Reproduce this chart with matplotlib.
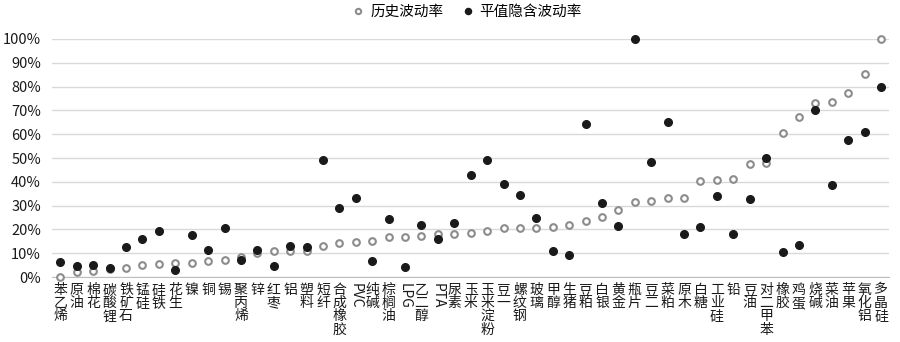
import matplotlib
matplotlib.use("Agg")
import matplotlib.pyplot as plt
from matplotlib.ticker import PercentFormatter

plt.rcParams['font.family'] = ['Noto Sans CJK SC', 'DejaVu Sans']

# 品种
names = ['苯乙烯', '原油', '棉花', '碳酸锂', '铁矿石', '锰硅', '硅铁', '花生', '镍', '铜',
         '锡', '聚丙烯', '锌', '红枣', '铝', '塑料', '短纤', '合成橡胶', 'PVC', '纯碱',
         '棕榈油', 'LPG', '乙二醇', 'PTA', '尿素', '玉米', '玉米淀粉', '豆一', '螺纹钢', '玻璃',
         '甲醇', '生猪', '豆粕', '白银', '黄金', '瓶片', '豆二', '菜粕', '原木', '白糖',
         '工业硅', '铅', '豆油', '对二甲苯', '橡胶', '鸡蛋', '烧碱', '菜油', '苹果', '氧化铝',
         '多晶硅']

# 历史波动率 (%)
hist_vol = [0.0, 2.1, 2.4, 3.3, 3.6, 5.2, 5.3, 5.9, 5.9, 6.9,
            7.0, 8.5, 10.1, 10.8, 10.8, 10.8, 13.1, 14.5, 14.8, 15.2,
            16.9, 16.9, 17.1, 18.0, 18.2, 18.6, 19.3, 20.6, 20.6, 20.7,
            21.0, 21.7, 23.5, 25.3, 28.0, 31.5, 32.0, 33.0, 33.0, 40.4,
            40.8, 41.0, 47.6, 48.0, 60.7, 67.3, 73.0, 73.4, 77.2, 85.2,
            100.0]

# 平值隐含波动率 (%)
iv_atm = [6.3, 4.5, 5.2, 3.8, 12.6, 15.9, 19.3, 2.8, 17.8, 11.2,
          20.6, 7.0, 11.5, 4.5, 12.9, 12.7, 49.2, 28.8, 33.1, 6.6,
          24.3, 4.2, 21.7, 16.1, 22.7, 42.7, 49.0, 38.9, 34.3, 24.9,
          10.8, 9.1, 64.1, 30.9, 21.3, 100.0, 48.4, 65.3, 17.9, 21.0,
          34.1, 17.9, 32.6, 50.1, 10.6, 13.3, 70.1, 38.7, 57.5, 61.0,
          80.0]

x = list(range(len(names)))

fig = plt.figure(figsize=(9, 3.42), dpi=100)
ax = fig.add_axes([0.058, 0.19, 0.93, 0.696])

ax.plot(x, hist_vol, 'o', mfc='white', mec='#8c8c8c', mew=1.5, ms=4.8,
        label='历史波动率', clip_on=False, zorder=3)
ax.plot(x, iv_atm, 'o', color='#1a1a1a', ms=5.5,
        label='平值隐含波动率', clip_on=False, zorder=4)

ax.set_xlim(-0.5, len(names) - 0.5)
ax.set_ylim(0, 100)
ax.set_yticks(range(0, 101, 10))
ax.yaxis.set_major_formatter(PercentFormatter(decimals=0))
ax.grid(axis='y', color='#d9d9d9', linewidth=1)
ax.set_axisbelow(True)
for s in ['top', 'right', 'left']:
    ax.spines[s].set_visible(False)
ax.spines['bottom'].set_color('#bfbfbf')
ax.tick_params(axis='both', length=0, labelsize=10, colors='#1a1a1a')
ax.tick_params(axis='y', pad=8, labelsize=10.5)

ax.set_xticks(x)
labels = []
for n in names:
    if n.isascii():
        labels.append(n)
    else:
        labels.append('\n'.join(n))
ax.set_xticklabels(labels, va='top', linespacing=0.95)
for t, n in zip(ax.get_xticklabels(), names):
    if n.isascii():
        t.set_rotation(-90)
ax.tick_params(axis='x', pad=4)

ax.legend(loc='lower center', bbox_to_anchor=(0.496, 1.03), ncol=2, frameon=False,
          fontsize=10.5, handlelength=0.8, handletextpad=0.4, columnspacing=1.3,
          markerscale=0.8)

fig.savefig('out.png', dpi=100)
